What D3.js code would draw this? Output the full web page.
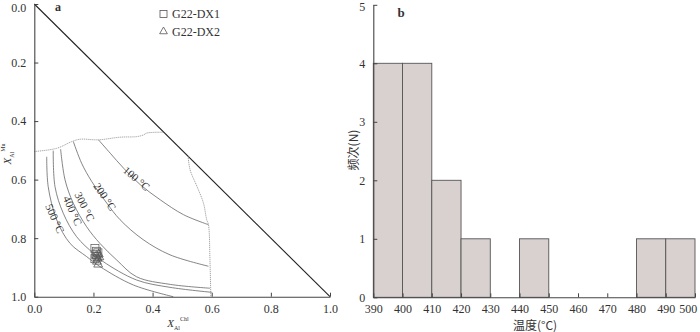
<!DOCTYPE html>
<html>
<head>
<meta charset="utf-8">
<script src="https://cdn.jsdelivr.net/npm/d3@7"></script>
<style>
  body { margin: 0; background: #fff; }
  svg { display: block; }
  text { font-family: "Liberation Serif", "Times New Roman", serif; fill: #333; }
  .cjk { font-family: "Noto Sans CJK SC", sans-serif; }
</style>
</head>
<body>
<script>
// ---- data (panel a: chlorite geothermometer) ----
const isoLabels = ["100 °C", "200 °C", "300 °C", "400 °C", "500 °C"];
const iso100 = [[0.217,0.464],[0.257,0.51],[0.302,0.561],[0.358,0.617],[0.426,0.669],[0.505,0.72],[0.589,0.754]];
const iso200 = [[0.132,0.47],[0.16,0.544],[0.194,0.606],[0.245,0.68],[0.29,0.737],[0.368,0.805],[0.459,0.857],[0.589,0.896]];
const iso300 = [[0.089,0.496],[0.104,0.601],[0.132,0.681],[0.177,0.761],[0.222,0.818],[0.279,0.875],[0.346,0.932],[0.46,0.958],[0.594,0.971]];
const iso400 = [[0.064,0.501],[0.07,0.624],[0.098,0.715],[0.143,0.795],[0.2,0.852],[0.233,0.88],[0.346,0.943],[0.459,0.968],[0.6,0.985]];
const iso500 = [[0.042,0.522],[0.047,0.624],[0.076,0.738],[0.121,0.818],[0.177,0.863],[0.222,0.897],[0.335,0.96],[0.47,1.0]];
const topBoundary = [[0,0.504],[0.076,0.493],[0.127,0.47],[0.155,0.462],[0.217,0.464],[0.29,0.455],[0.347,0.453],[0.37,0.447],[0.38,0.441],[0.437,0.438]];
const rightBoundary = [[0.52,0.52],[0.527,0.567],[0.55,0.623],[0.572,0.68],[0.583,0.737],[0.589,0.754],[0.594,0.874],[0.597,1.0]];
const dx1 = [[0.205,0.835],[0.21,0.845],[0.208,0.855],[0.215,0.85],[0.212,0.862],[0.205,0.87]];
const dx2 = [[0.21,0.86],[0.218,0.855],[0.214,0.87],[0.22,0.865],[0.212,0.88],[0.216,0.89]];
const ticksA = [0, 0.2, 0.4, 0.6, 0.8, 1.0];

// ---- data (panel b: histogram) ----
const binStarts = [390, 400, 410, 420, 430, 440, 450, 460, 470, 480, 490];
const counts    = [4, 4, 2, 1, 0, 1, 0, 0, 0, 1, 1];
const ticksB = [390, 400, 410, 420, 430, 440, 450, 460, 470, 480, 490, 500];

const svg = d3.select("body").append("svg").attr("width", 700).attr("height", 332);

const AXIS = "#444";

// ================= panel a =================
const xa = d3.scaleLinear().domain([0, 1]).range([34.3, 330]);
const ya = d3.scaleLinear().domain([0, 1]).range([4, 296.7]);
const ga = svg.append("g");

// triangle hypotenuse
ga.append("line")
  .attr("x1", xa(0)).attr("y1", ya(0)).attr("x2", xa(1)).attr("y2", ya(1))
  .attr("stroke", "#222").attr("stroke-width", 1.1);

const lineA = d3.line().x(d => xa(d[0])).y(d => ya(d[1])).curve(d3.curveCatmullRom);

// dotted stability boundaries
[topBoundary, rightBoundary].forEach(b => {
  ga.append("path").attr("d", lineA(b)).attr("fill", "none")
    .attr("stroke", "#999").attr("stroke-width", 0.9).attr("stroke-dasharray", "1.2,0.8");
});

// isotherms
[iso100, iso200, iso300, iso400, iso500].forEach(c => {
  ga.append("path").attr("d", lineA(c)).attr("fill", "none")
    .attr("stroke", "#666").attr("stroke-width", 0.8);
});

// isotherm labels (centre in data units, rotation in degrees)
const isoLabelPos = [[0.346, 0.596, 40], [0.239, 0.658, 56], [0.171, 0.692, 63], [0.13, 0.706, 66], [0.07, 0.733, 66]];
isoLabels.forEach((t, i) => {
  const p = isoLabelPos[i];
  ga.append("text")
    .attr("transform", `translate(${xa(p[0])},${ya(p[1])}) rotate(${p[2]})`)
    .attr("text-anchor", "middle").attr("dominant-baseline", "central")
    .attr("font-size", 11).text(t);
});

// samples
ga.selectAll("rect.s").data(dx1).enter().append("rect")
  .attr("x", d => xa(d[0]) - 4).attr("y", d => ya(d[1]) - 4)
  .attr("width", 8).attr("height", 8)
  .attr("fill", "none").attr("stroke", "#666").attr("stroke-width", 0.8);
const tri = d3.symbol().type(d3.symbolTriangle).size(34);
ga.selectAll("path.t").data(dx2).enter().append("path")
  .attr("d", tri).attr("transform", d => `translate(${xa(d[0])},${ya(d[1])})`)
  .attr("fill", "none").attr("stroke", "#555").attr("stroke-width", 0.8);

// axes
const axA_y = ga.append("g").attr("transform", `translate(${xa(0)},0)`)
  .call(d3.axisLeft(ya).tickValues(ticksA).tickFormat(d3.format(".1f")).tickSizeInner(-4).tickSizeOuter(0).tickPadding(8));
const axA_x = ga.append("g").attr("transform", `translate(0,${ya(1)})`)
  .call(d3.axisBottom(xa).tickValues(ticksA).tickFormat(d3.format(".1f")).tickSizeInner(-4).tickSizeOuter(0).tickPadding(8));
[axA_y, axA_x].forEach(a => {
  a.select(".domain").attr("stroke", AXIS).attr("stroke-width", 1.1);
  a.selectAll(".tick line").attr("stroke", AXIS);
  a.selectAll(".tick text").attr("font-size", 12).attr("fill", "#333");
});
// keep the top label inside the frame
axA_y.selectAll(".tick text").filter(d => d === 0).attr("dy", "0.6em");

// axis titles
const xt = ga.append("text").attr("x", 178).attr("y", 327).attr("text-anchor", "middle").attr("font-size", 11).attr("font-style", "italic");
xt.append("tspan").text("X");
xt.append("tspan").attr("font-size", 6).attr("font-style", "normal").attr("dy", 3).text("Al");
xt.append("tspan").attr("font-size", 6).attr("font-style", "normal").attr("dy", -9).text("Chl");

const yt = ga.append("text").attr("transform", "translate(11,154) rotate(-90)").attr("text-anchor", "middle").attr("font-size", 11).attr("font-style", "italic");
yt.append("tspan").text("X");
yt.append("tspan").attr("font-size", 6).attr("font-style", "normal").attr("dy", 3).text("Al");
yt.append("tspan").attr("font-size", 6).attr("font-style", "normal").attr("dy", -9).text("Mu");

// panel letter
ga.append("text").attr("x", 58).attr("y", 11).attr("font-size", 12).attr("font-weight", "bold").attr("text-anchor", "middle").text("a");

// legend
const legA = ga.append("g");
legA.append("rect").attr("x", 160).attr("y", 10.5).attr("width", 7).attr("height", 7)
  .attr("fill", "none").attr("stroke", "#555").attr("stroke-width", 0.8);
legA.append("path").attr("d", d3.symbol().type(d3.symbolTriangle).size(26))
  .attr("transform", "translate(163.5,31.5)").attr("fill", "none").attr("stroke", "#555").attr("stroke-width", 0.8);
legA.append("text").attr("x", 172).attr("y", 18).attr("font-size", 12).text("G22-DX1");
legA.append("text").attr("x", 172).attr("y", 35.5).attr("font-size", 12).text("G22-DX2");

// ================= panel b =================
const xb = d3.scaleLinear().domain([390, 500]).range([373.3, 695]);
const yb = d3.scaleLinear().domain([0, 5]).range([297.3, 4.8]);
const gb = svg.append("g");

const bins = binStarts.map((s, i) => ({ x0: s, x1: s + 10, n: counts[i] })).filter(d => d.n > 0);
gb.selectAll("rect.bar").data(bins).enter().append("rect")
  .attr("x", d => xb(d.x0)).attr("y", d => yb(d.n))
  .attr("width", d => xb(d.x1) - xb(d.x0)).attr("height", d => yb(0) - yb(d.n))
  .attr("fill", "#d9d1d0").attr("stroke", "#555").attr("stroke-width", 0.9);

const axB_y = gb.append("g").attr("transform", `translate(${xb(390)},0)`)
  .call(d3.axisLeft(yb).ticks(5).tickFormat(d3.format("d")).tickSizeInner(-4).tickSizeOuter(0).tickPadding(8));
const axB_x = gb.append("g").attr("transform", `translate(0,${yb(0)})`)
  .call(d3.axisBottom(xb).tickValues(ticksB).tickFormat(d3.format("d")).tickSizeInner(-4).tickSizeOuter(0).tickPadding(7));
[axB_y, axB_x].forEach(a => {
  a.select(".domain").attr("stroke", AXIS).attr("stroke-width", 1.1);
  a.selectAll(".tick line").attr("stroke", AXIS);
  a.selectAll(".tick text").attr("font-size", 12).attr("fill", "#333");
});
axB_y.selectAll(".tick text").filter(d => d === 5).attr("dy", "0.5em");
axB_x.selectAll(".tick text").filter(d => d === 500).attr("text-anchor", "end").attr("dx", "0.15em");

gb.append("text").attr("class", "cjk").attr("x", 535).attr("y", 330).attr("text-anchor", "middle").attr("font-size", 12).attr("fill", "#444").text("温度(°C)");
gb.append("text").attr("class", "cjk").attr("transform", "translate(352,150) rotate(-90)").attr("text-anchor", "middle").attr("dominant-baseline", "central").attr("font-size", 12).attr("fill", "#444").text("频次(N)");
gb.append("text").attr("x", 401).attr("y", 17).attr("font-size", 13).attr("font-weight", "bold").attr("text-anchor", "middle").text("b");
</script>
</body>
</html>
